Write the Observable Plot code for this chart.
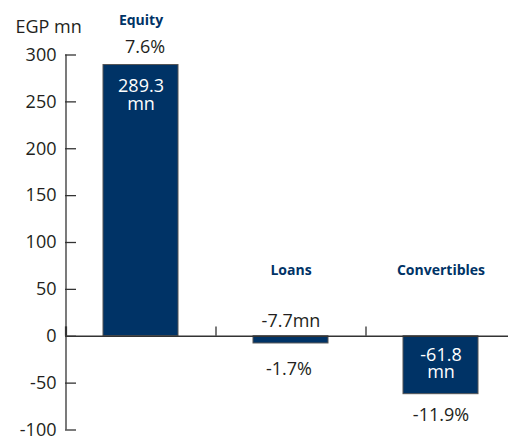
<!DOCTYPE html>
<html>
<head>
<meta charset="utf-8">
<script src="https://cdn.jsdelivr.net/npm/d3@7"></script>
<script src="https://cdn.jsdelivr.net/npm/@observablehq/plot@0.6"></script>
<style>
  html, body { margin: 0; padding: 0; background: #fff; }
</style>
</head>
<body>
<div id="chart"></div>
<script>
// ---- data ----
const categories = ["Equity", "Loans", "Convertibles"];
const values = [289.3, -7.7, -61.8];          // EGP mn
const shares = [7.6, -1.7, -11.9];            // %
const yTicks = [-100, -50, 0, 50, 100, 150, 200, 250, 300];
const unitLabel = "EGP mn";

// ---- layout (not data) ----
const navy = "#003366";
const ink = "#231f20";
const catLabelY = [337, 70, 70];   // vertical placement of category captions (y units)

const rows = categories.map((c, i) => ({
  cat: c,
  value: values[i],
  share: shares[i],
  inside: Math.abs(values[i]) > 40,
  catY: catLabelY[i]
}));

const amountText = d => d.inside ? `${d.value.toFixed(1)}\nmn` : `${d.value.toFixed(1)}mn`;
const shareText = d => `${d.share.toFixed(1)}%`;

const pos = rows.filter(d => d.value > 0);
const negIn = rows.filter(d => d.value < 0 && d.inside);
const negOut = rows.filter(d => d.value < 0 && !d.inside);

const chart = Plot.plot({
  width: 508,
  height: 439,
  marginLeft: 65,
  marginRight: 0,
  marginTop: 54.5,
  marginBottom: 9.5,
  style: {fontFamily: "'Open Sans', sans-serif", fontSize: "18px", color: ink, background: "#fff", overflow: "visible"},
  x: {domain: categories, range: [65, 515], paddingInner: 0.5, paddingOuter: 0.25, axis: null},
  y: {domain: [-100, 300], axis: null},
  marks: [
    // bars
    Plot.barY(rows, {x: "cat", y: "value", fill: navy, stroke: "#555", strokeWidth: 1}),
    // y axis line
    Plot.ruleX([categories[0]], {x: d => d, dx: -75, y1: -100, y2: 300, stroke: "#333", strokeWidth: 1.3}),
    // y axis ticks (pointing inward)
    Plot.ruleY(yTicks, {insetRight: 432, stroke: "#333", strokeWidth: 1.3}),
    // tick labels
    Plot.axisY({ticks: yTicks, tickSize: 0, tickPadding: 9, fontSize: 18, fill: ink, label: null, tickFormat: d => String(d)}),
    // zero baseline
    Plot.ruleY([0], {stroke: "#333", strokeWidth: 1.3}),
    // category separators on the baseline
    Plot.ruleX([categories[0]], {x: d => d, dx: -75, y1: 0, y2: 10, stroke: "#333", strokeWidth: 2.2}),
    Plot.ruleX([categories[0], categories[1]], {x: d => d, dx: 75, y1: 0, y2: 10, stroke: "#333", strokeWidth: 1.3}),
    // unit label
    Plot.text([unitLabel], {frameAnchor: "top-left", dx: -50, dy: -34.5, textAnchor: "start", fontSize: 18, fill: ink}),
    // category captions
    Plot.text(rows, {x: "cat", y: "catY", text: "cat", fontSize: 14, fontWeight: "bold", fill: navy}),
    // amount labels inside bars
    Plot.text(pos.filter(d => d.inside), {x: "cat", y: "value", text: amountText, dy: 30.5, fill: "white", fontSize: 18, lineHeight: 0.95}),
    Plot.text(negIn, {x: "cat", y: 0, text: amountText, dy: 28, fill: "white", fontSize: 18, lineHeight: 0.95}),
    // amount labels outside (small bars)
    Plot.text(negOut, {x: "cat", y: 0, text: amountText, dy: -15, fill: ink, fontSize: 18}),
    // share labels
    Plot.text(pos, {x: "cat", y: "value", text: shareText, dx: 4, dy: -18, fill: ink, fontSize: 18}),
    Plot.text(negIn, {x: "cat", y: "value", text: shareText, dy: 21, fill: ink, fontSize: 18}),
    Plot.text(negOut, {x: "cat", y: "value", text: shareText, dx: -2, dy: 26, fill: ink, fontSize: 18})
  ]
});

document.getElementById("chart").appendChild(chart);
</script>
</body>
</html>
